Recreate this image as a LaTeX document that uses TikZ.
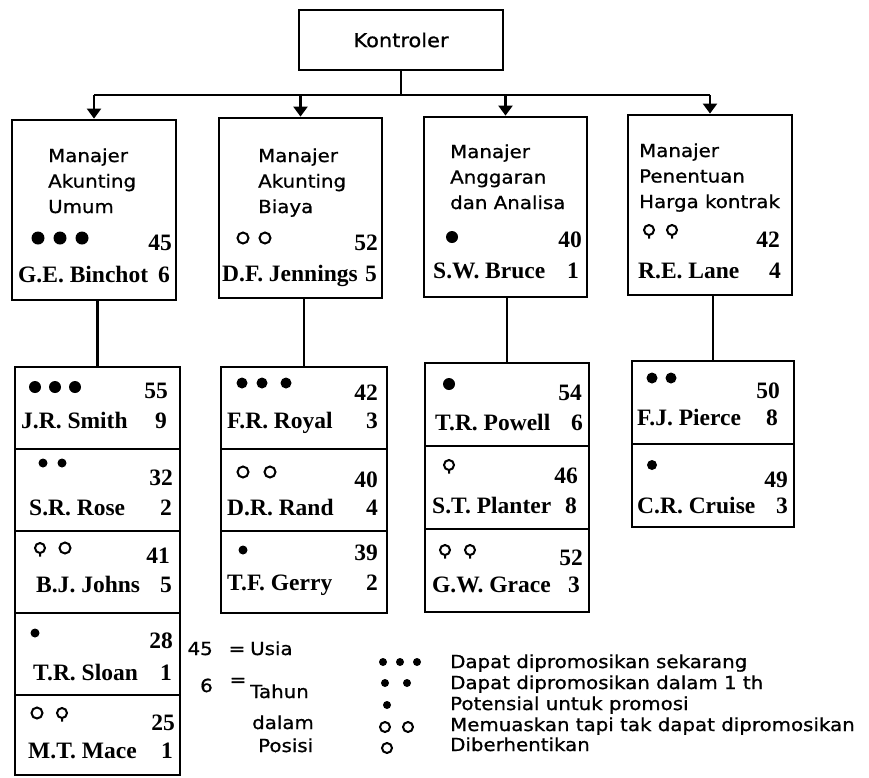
\documentclass[tikz,border=0pt]{standalone}
\usepackage{fontspec}
\setmainfont{Liberation Serif}
\newfontfamily\sansw[FakeStretch=1.1,FakeBold=0.9]{DejaVu Sans}
\usetikzlibrary{arrows.meta}

% small markers used in the cells
\newcommand\bulletat[3]{\fill (#1,#2) circle[radius=#3pt];}
\newcommand\ringat[3]{\draw[ring] (#1,#2) circle[radius=#3pt];}
\newcommand\pinat[2]{\draw[ring] (#1,#2) circle[radius=5pt] (#1,#2+5) -- ++(0,3.5);}

% three title lines of a manager box
\newcommand\mgrtitle[6]{%
  \node[ttl] (#1a) at (#2,#3) {#4};
  \node[ttl] (#1b) at (#2,#3+25.5) {#5};
  \node[ttl] (#1c) at (#2,#3+51) {#6};}

% name with age (top right) and years in position (bottom right)
\newcommand\entry[9]{%
  \node[nm, anchor=base west] (#1n) at (#3,#4) {#2};
  \node[nm, anchor=base east] (#1a) at (#6,#7) {#5};
  \node[nm, anchor=base east] (#1y) at (#9,#4) {#8};}

\begin{document}
\begin{tikzpicture}[x=1pt,y=-1pt,
  box/.style={draw, line width=2.8pt, inner sep=0pt},
  cell/.style={box, minimum width=#1pt},
  ttl/.style={font=\sansw\fontsize{18}{22}\selectfont, inner sep=0pt, anchor=base west},
  lgd/.style={font=\sansw\fontsize{18}{22}\selectfont, inner sep=0pt, anchor=base west},
  nm/.style={font=\bfseries\fontsize{23.5}{26}\selectfont, inner sep=0pt},
  link/.style={line width=2.3pt},
  ring/.style={line width=2pt},
  arr/.style={link, -{Triangle[width=14pt,length=10pt]}}]

\fill[white] (0,0) rectangle (869,777);
\useasboundingbox (0,0) rectangle (869,777);

% top of the hierarchy
\node[box, minimum width=204pt, minimum height=60pt,
      font=\sansw\fontsize{19}{22}\selectfont] (K) at (401,40) {Kontroler};

% managers
\node[box, minimum width=164pt, minimum height=180pt] (M1) at (94,210) {};
\node[box, minimum width=163pt, minimum height=180pt] (M2) at (300.5,208) {};
\node[box, minimum width=163pt, minimum height=180pt] (M3) at (505.5,207) {};
\node[box, minimum width=164pt, minimum height=180pt] (M4) at (710,205) {};

\coordinate (bus) at (0,95);
\draw[link] (K.south) -- (K.south |- bus);
\draw[link] (M1.north |- bus) -- (M4.north |- bus);
\foreach \m in {M1,M2,M3,M4}
  \draw[arr] (\m.north |- bus) -- (\m.north);

\mgrtitle{t1}{48}{162}{Manajer}{Akunting}{Umum}
\mgrtitle{t2}{258}{162}{Manajer}{Akunting}{Biaya}
\mgrtitle{t3}{450}{158}{Manajer}{Anggaran}{dan Analisa}
\mgrtitle{t4}{639}{157}{Manajer}{Penentuan}{Harga kontrak}

\bulletat{38}{238}{6.5}\bulletat{60}{238}{6.5}\bulletat{82}{238}{6.5}
\ringat{243}{238}{5.5}\ringat{265}{238}{5.5}
\bulletat{452}{237}{6}
\pinat{649}{230}\pinat{672}{230}

\entry{e1}{G.E. Binchot}{18}{282}{45}{172}{250}{6}{170}
\entry{e2}{D.F. Jennings}{222}{281}{52}{378}{250}{5}{377}
\entry{e3}{S.W. Bruce}{433}{278}{40}{582}{247}{1}{579}
\entry{e4}{R.E. Lane}{638}{278}{42}{780}{247}{4}{781}

% staff under each manager
\node[cell=165, minimum height=82pt] (S11) at (97.5,408) {};
\node[cell=165, minimum height=82pt] (S12) at (97.5,490) {};
\node[cell=165, minimum height=82pt] (S13) at (97.5,572) {};
\node[cell=165, minimum height=82pt] (S14) at (97.5,654) {};
\node[cell=165, minimum height=80pt] (S15) at (97.5,735) {};

\node[cell=166, minimum height=82pt] (S21) at (304,408) {};
\node[cell=166, minimum height=82pt] (S22) at (304,490) {};
\node[cell=166, minimum height=82pt] (S23) at (304,572) {};

\node[cell=164, minimum height=83pt] (S31) at (507,404.5) {};
\node[cell=164, minimum height=83pt] (S32) at (507,487.5) {};
\node[cell=164, minimum height=83pt] (S33) at (507,570.5) {};

\node[cell=162, minimum height=83pt] (S41) at (713,402.5) {};
\node[cell=162, minimum height=83pt] (S42) at (713,485.5) {};

\draw[link] (S11.north) -- (S11.north |- M1.south);
\draw[link] (S21.north) -- (S21.north |- M2.south);
\draw[link] (S31.north) -- (S31.north |- M3.south);
\draw[link] (S41.north) -- (S41.north |- M4.south);

\bulletat{35}{387}{6}\bulletat{55}{387}{6}\bulletat{75}{387}{6}
\bulletat{43}{463}{4.5}\bulletat{62}{463}{4.5}
\pinat{40}{548}\ringat{65}{548}{5.5}
\bulletat{35}{633}{4.5}
\ringat{37}{713}{5.5}\pinat{62}{713}

\bulletat{242}{383}{5.5}\bulletat{262}{383}{5.5}\bulletat{286}{383}{5.5}
\ringat{243}{472}{5.5}\ringat{270}{472}{5.5}
\bulletat{243}{550}{4.5}

\bulletat{449}{384}{6}
\pinat{449}{465}
\pinat{445}{550}\pinat{470}{550}

\bulletat{652}{378}{5.5}\bulletat{671}{378}{5.5}
\bulletat{652}{465}{5}

\entry{s11}{J.R. Smith}{21}{428}{55}{168}{398}{9}{167}
\entry{s12}{S.R. Rose}{29}{515}{32}{173}{485}{2}{172}
\entry{s13}{B.J. Johns}{36}{592}{41}{170}{563}{5}{172}
\entry{s14}{T.R. Sloan}{33}{680}{28}{173}{648}{1}{172}
\entry{s15}{M.T. Mace}{28}{758}{25}{175}{730}{1}{173}

\entry{s21}{F.R. Royal}{227}{428}{42}{378}{400}{3}{378}
\entry{s22}{D.R. Rand}{227}{515}{40}{378}{487}{4}{378}
\entry{s23}{T.F. Gerry}{227}{590}{39}{378}{560}{2}{378}

\entry{s31}{T.R. Powell}{435}{430}{54}{582}{400}{6}{583}
\entry{s32}{S.T. Planter}{432}{513}{46}{578}{483}{8}{577}
\entry{s33}{G.W. Grace}{432}{592}{52}{583}{565}{3}{580}

\entry{s41}{F.J. Pierce}{637}{425}{50}{780}{398}{8}{778}
\entry{s42}{C.R. Cruise}{637}{513}{49}{788}{487}{3}{788}

% key to the numbers
\node[lgd, anchor=base east] (k45) at (213,655) {45};
\node[lgd, anchor=base] (keqa) at (237,655) {=};
\node[lgd] (kusia) at (250,655) {Usia};
\node[lgd, anchor=base east] (k6) at (213,692) {6};
\node[lgd, anchor=base] (keqb) at (238,686) {=};
\node[lgd] (kta) at (250,698) {Tahun};
\node[lgd] (ktb) at (252,729) {dalam};
\node[lgd] (ktc) at (258,752) {Posisi};

% key to the markers
\bulletat{383}{662}{4}\bulletat{400}{662}{4}\bulletat{417}{662}{4}
\bulletat{385}{683}{4}\bulletat{407}{683}{4}
\bulletat{387}{705}{4}
\ringat{385}{727}{5}\ringat{408}{727}{5}
\ringat{387}{748}{5}

\node[lgd] (la) at (450,668) {Dapat dipromosikan sekarang};
\node[lgd] (lb) at (450,689) {Dapat dipromosikan dalam 1 th};
\node[lgd] (lc) at (450,710) {Potensial untuk promosi};
\node[lgd] (ld) at (450,731) {Memuaskan tapi tak dapat dipromosikan};
\node[lgd] (le) at (450,751) {Diberhentikan};

\end{tikzpicture}
\end{document}
